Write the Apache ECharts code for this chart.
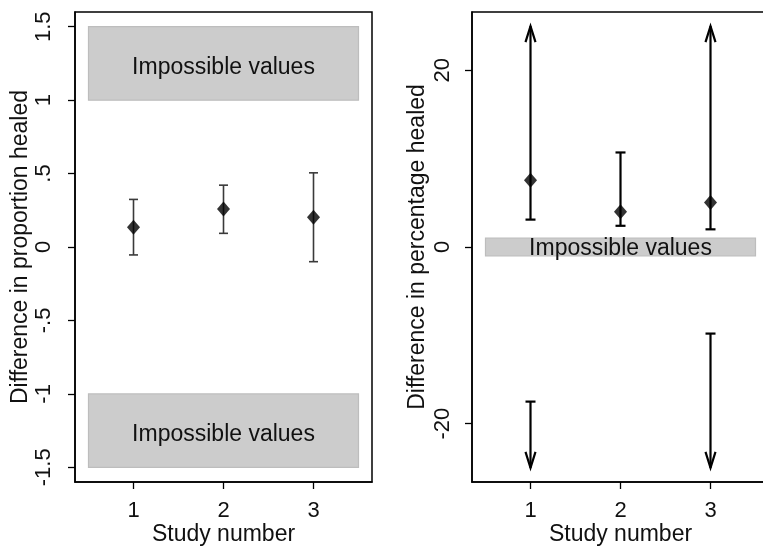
<!DOCTYPE html>
<html>
<head>
<meta charset="utf-8">
<script src="https://cdn.jsdelivr.net/npm/echarts@6/dist/echarts.min.js"></script>
<style>
  html, body { margin: 0; padding: 0; background: #fff; }
  #chart { width: 763px; height: 549px; }
</style>
</head>
<body>
<div id="chart"></div>
<script>
// left panel: difference in proportion healed
const propStudy = [1, 2, 3]
const propEst = [0.134, 0.258, 0.202]
const propLow = [-0.054, 0.093, -0.1]
const propHigh = [0.324, 0.421, 0.505]
const propTicks = [-1.5, -1, -0.5, 0, 0.5, 1, 1.5]

// right panel: difference in percentage healed
const pctStudy = [1, 2, 3]
const pctEst = [7.55, 4.0, 5.05]
// interval segments (some studies have two disjoint pieces)
const pctSegStudy = [1, 1, 2, 3, 3]
const pctSegLow = [3.1, -25, 2.4, 2.0, -25]
const pctSegHigh = [25, -17.5, 10.7, 25, -9.8]
const pctSegLowArrow = [0, 1, 0, 0, 1]
const pctSegHighArrow = [1, 0, 0, 1, 0]
const pctTicks = [-20, 0, 20]

const studyTicks = [1, 2, 3]
const impossibleLabel = 'Impossible values'

const FONT = 'Liberation Sans, Arial, sans-serif'
const chart = echarts.init(document.getElementById('chart'))

const fmtProp = v => {
  if (v === 0) return '0'
  const s = String(Math.abs(v)).replace(/^0/, '')
  return (v < 0 ? '-' : '') + s
}

const makeRender = (color, width, capHalf) => (params, api) => {
  const x = api.value(0)
  const lo = api.coord([x, api.value(1)])
  const hi = api.coord([x, api.value(2)])
  const loArrow = api.value(3) === 1
  const hiArrow = api.value(4) === 1
  const style = { stroke: color, lineWidth: width, fill: null }
  const kids = [
    { type: 'line', shape: { x1: lo[0], y1: lo[1], x2: hi[0], y2: hi[1] }, style }
  ]
  if (loArrow) {
    kids.push({ type: 'polyline', shape: { points: [[lo[0] - 5, lo[1] - 16], [lo[0], lo[1]], [lo[0] + 5, lo[1] - 16]] }, style })
  } else {
    kids.push({ type: 'line', shape: { x1: lo[0] - capHalf, y1: lo[1], x2: lo[0] + capHalf, y2: lo[1] }, style })
  }
  if (hiArrow) {
    kids.push({ type: 'polyline', shape: { points: [[hi[0] - 5, hi[1] + 16], [hi[0], hi[1]], [hi[0] + 5, hi[1] + 16]] }, style })
  } else {
    kids.push({ type: 'line', shape: { x1: hi[0] - capHalf, y1: hi[1], x2: hi[0] + capHalf, y2: hi[1] }, style })
  }
  return { type: 'group', children: kids }
}

const xAxisBase = gridIndex => ({
  type: 'value',
  gridIndex,
  min: 0.35,
  max: 3.65,
  name: 'Study number',
  nameLocation: 'middle',
  nameGap: 41,
  nameMoveOverlap: false,
  nameTextStyle: { fontFamily: FONT, fontSize: 23, color: '#111' },
  splitLine: { show: false },
  axisLine: { show: true, onZero: false, lineStyle: { color: '#000', width: 1.5 } },
  axisTick: { show: true, length: 7, customValues: studyTicks, lineStyle: { color: '#000', width: 1.3 } },
  axisLabel: { customValues: studyTicks, margin: 18, fontFamily: FONT, fontSize: 22, color: '#111' }
})

const markBox = (y0, y1) => [
  { xAxis: 0.5, yAxis: y0 },
  { xAxis: 3.5, yAxis: y1 }
]
const boxStyle = { color: '#cccccc', borderColor: '#bdbdbd', borderWidth: 1.2 }
const boxLabel = { show: true, position: 'inside', offset: [0, 4], formatter: impossibleLabel, fontFamily: FONT, fontSize: 23, color: '#111' }

const gridBase = left => ({
  left, top: 12, width: 297, height: 470,
  outerBoundsMode: 'none',
  containLabel: false,
  show: true, borderColor: '#000', borderWidth: 1.5, backgroundColor: 'transparent'
})

const option = {
  backgroundColor: '#fff',
  animation: false,
  grid: [gridBase(75), gridBase(472)],
  xAxis: [xAxisBase(0), xAxisBase(1)],
  yAxis: [
    {
      type: 'value',
      gridIndex: 0,
      min: -1.6,
      max: 1.6,
      name: 'Difference in proportion healed',
      nameLocation: 'middle',
      nameGap: 43,
      nameMoveOverlap: false,
      nameTextStyle: { fontFamily: FONT, fontSize: 23, color: '#111' },
      splitLine: { show: false },
      axisLine: { show: true, onZero: false, lineStyle: { color: '#000', width: 1.5 } },
      axisTick: { show: true, length: 7, customValues: propTicks, lineStyle: { color: '#000', width: 1.3 } },
      axisLabel: { customValues: propTicks, rotate: 90, margin: 20, formatter: fmtProp, fontFamily: FONT, fontSize: 22, color: '#111' }
    },
    {
      type: 'value',
      gridIndex: 1,
      min: -26.6,
      max: 26.6,
      name: 'Difference in percentage healed',
      nameLocation: 'middle',
      nameGap: 43,
      nameMoveOverlap: false,
      nameTextStyle: { fontFamily: FONT, fontSize: 23, color: '#111' },
      splitLine: { show: false },
      axisLine: { show: true, onZero: false, lineStyle: { color: '#000', width: 1.5 } },
      axisTick: { show: true, length: 7, customValues: pctTicks, lineStyle: { color: '#000', width: 1.3 } },
      axisLabel: { customValues: pctTicks, rotate: 90, margin: 18, fontFamily: FONT, fontSize: 22, color: '#111' }
    }
  ],
  series: [
    {
      type: 'custom',
      xAxisIndex: 0,
      yAxisIndex: 0,
      silent: true,
      z: 3,
      encode: { x: 0, y: [1, 2] },
      renderItem: makeRender('#3a3a3a', 1.6, 4.5),
      data: propStudy.map((s, i) => [s, propLow[i], propHigh[i], 0, 0]),
      markArea: {
        silent: true,
        z: 1,
        itemStyle: boxStyle,
        label: boxLabel,
        data: [markBox(1.0, 1.5), markBox(-1.5, -1.0)]
      }
    },
    {
      type: 'scatter',
      xAxisIndex: 0,
      yAxisIndex: 0,
      symbol: 'diamond',
      symbolSize: [13, 15],
      itemStyle: { color: '#000' },
      z: 5,
      data: propStudy.map((s, i) => [s, propEst[i]])
    },
    {
      type: 'custom',
      xAxisIndex: 1,
      yAxisIndex: 1,
      silent: true,
      z: 3,
      encode: { x: 0, y: [1, 2] },
      renderItem: makeRender('#000', 2.2, 5),
      data: pctSegStudy.map((s, i) => [s, pctSegLow[i], pctSegHigh[i], pctSegLowArrow[i], pctSegHighArrow[i]]),
      markArea: {
        silent: true,
        z: 1,
        itemStyle: boxStyle,
        label: Object.assign({}, boxLabel, { offset: [0, 2] }),
        data: [markBox(-1, 1)]
      }
    },
    {
      type: 'scatter',
      xAxisIndex: 1,
      yAxisIndex: 1,
      symbol: 'diamond',
      symbolSize: [13, 15],
      itemStyle: { color: '#000' },
      z: 5,
      data: pctStudy.map((s, i) => [s, pctEst[i]])
    }
  ]
}

chart.setOption(option)
</script>
</body>
</html>
